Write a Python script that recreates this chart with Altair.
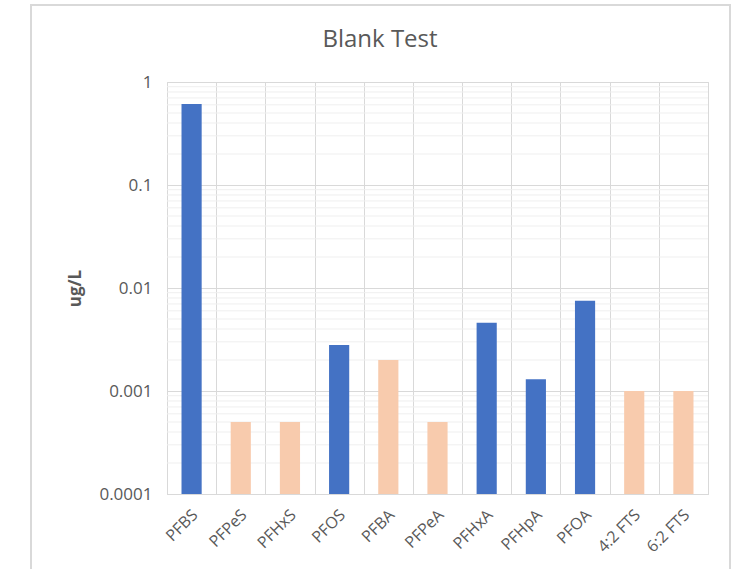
import altair as alt
import pandas as pd

# Measured blank concentrations (ug/L) per compound
compounds = ["PFBS", "PFPeS", "PFHxS", "PFOS", "PFBA", "PFPeA",
             "PFHxA", "PFHpA", "PFOA", "4:2 FTS", "6:2 FTS"]
values = [0.61, 0.0005, 0.0005, 0.0028, 0.002, 0.0005,
          0.0046, 0.0013, 0.0075, 0.001, 0.001]
result = ["Detected", "Not detected", "Not detected", "Detected", "Not detected",
          "Not detected", "Detected", "Detected", "Detected", "Not detected",
          "Not detected"]

# Log axis: labelled decades and the unlabelled minor steps between them
decades = [0.0001, 0.001, 0.01, 0.1, 1]
minor_steps = [2, 3, 4, 5, 6, 7, 8, 9]
minor_ticks = [m * d for d in decades[:-1] for m in minor_steps]

chart_title = "Blank Test"

df = pd.DataFrame({"compound": compounds, "value": values, "result": result})

FONT = "Open Sans"
TEXT = "#595959"
GRID = "#d9d9d9"

y_scale = alt.Scale(type="log", domain=[0.0001, 1], nice=False)

minor_grid = alt.Chart(pd.DataFrame({"tick": minor_ticks})).mark_rule(
    color="#efefef", strokeWidth=1
).encode(y=alt.Y("tick:Q", scale=y_scale))

bars = alt.Chart(df).mark_bar(width=alt.RelativeBandSize(0.41)).encode(
    x=alt.X(
        "compound:N",
        sort=compounds,
        title=None,
        scale=alt.Scale(paddingInner=0, paddingOuter=0),
        axis=alt.Axis(
            labelAngle=-45, labelAlign="right", labelBaseline="middle",
            labelFontSize=16, labelColor=TEXT, labelFont=FONT, labelPadding=18,
            labelOffset=3,
            ticks=False, tickBand="extent", grid=True, gridColor=GRID,
            domainColor=GRID,
        ),
    ),
    y=alt.Y(
        "value:Q",
        scale=y_scale,
        title="ug/L",
        axis=alt.Axis(
            values=decades, format="~g", ticks=False, domain=False,
            grid=True, gridColor=GRID,
            labelFontSize=17, labelColor=TEXT, labelFont=FONT, labelPadding=15,
            titleFontSize=17, titleColor=TEXT, titleFont=FONT,
            titleFontWeight="bold", titlePadding=14,
        ),
    ),
    y2=alt.datum(0.0001),
    color=alt.Color(
        "result:N",
        scale=alt.Scale(domain=["Detected", "Not detected"],
                        range=["#4472C4", "#F8CBAD"]),
        legend=None,
    ),
)

# Outer chart frame
frame = alt.Chart(alt.Data(values=[{}])).mark_rect(
    fill=None, stroke=GRID, strokeWidth=2
).encode(
    x=alt.value(-136), x2=alt.value(563),
    y=alt.value(-77), y2=alt.value(500),
)

# Chart heading, centred on the frame
heading = alt.Chart(alt.Data(values=[{}])).mark_text(
    text=chart_title, font=FONT, fontSize=24, color=TEXT,
    align="center", baseline="alphabetic",
).encode(x=alt.value(213), y=alt.value(-35))

chart = alt.layer(frame, minor_grid, bars, heading).properties(
    width=541,
    height=412,
    autosize=alt.AutoSizeParams(type="none"),
    padding={"left": 167, "top": 82, "right": 25, "bottom": 75},
).configure_view(stroke=GRID, strokeWidth=1)

chart.save("out.html", embed_options={"renderer": "svg", "actions": False})
